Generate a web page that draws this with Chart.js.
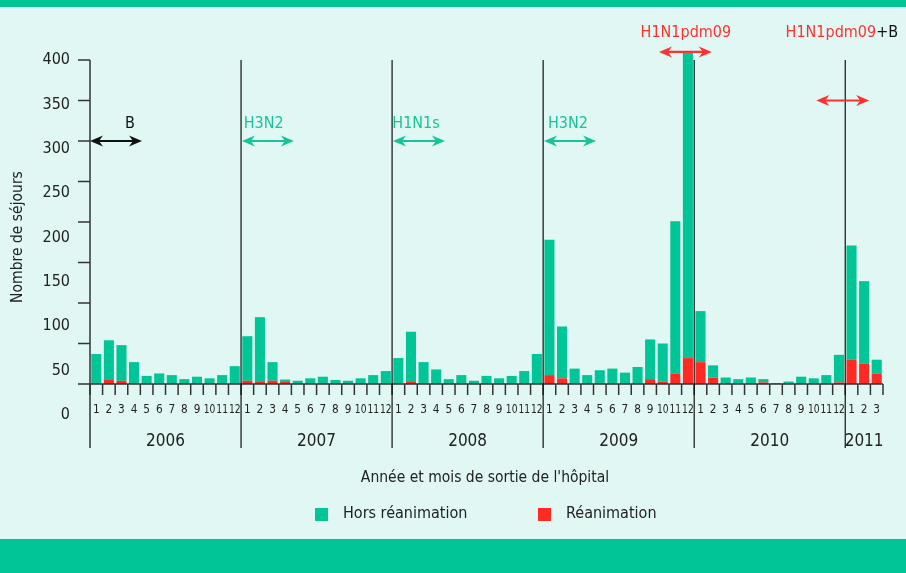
<!DOCTYPE html>
<html><head><meta charset="utf-8">
<script src="https://cdn.jsdelivr.net/npm/chart.js@4.4.0/dist/chart.umd.min.js"></script>
<style>html,body{margin:0;padding:0;background:#e0f7f3;}#wrap{width:906px;height:573px;position:relative;}</style>
</head><body><div id="wrap"><canvas id="c" width="906" height="573"></canvas></div>
<script>
// ---- data ----
const years = ['2006','2007','2008','2009','2010','2011'];
const monthsPerYear = [12,12,12,12,12,3];
const monthLabels = [];
years.forEach((y,k)=>{ for(let m=1;m<=monthsPerYear[k];m++) monthLabels.push(String(m)); });

const horsReanimation = [
  36,49,44,26,9,12,10,5,8,6,10,21,
  55,80,23,3,3,6,8,4,3,6,10,15,
  31,62,26,17,5,10,3,9,6,9,15,36,
  167,64,18,10,16,18,13,20,49,47,188,378,
  63,15,7,5,7,4,0,2,8,6,10,34,
  141,102,17
];
const reanimation = [
  1,5,4,1,1,1,1,1,1,1,1,1,
  4,2.5,4,2.5,1,1,1,1,1,1,1,1,
  1,2.5,1,1,1,1,1,1,1,1,1,1,
  11,7,1,1,1,1,1,1,6,3,13,32,
  27,8,1,1,1,2,1,1,1,1,1,2,
  30,25,13
];
const yTicks = [0,50,100,150,200,250,300,350,400];
const seriesNames = ['Hors réanimation','Réanimation'];

// epidemic periods (x in month index units, y in value units)
const periods = [
  {label:[['B','#111']], from:-0.5, to:3.63, y:300, lx:2.68, color:'#111'},
  {label:[['H3N2','#17c49a']], from:11.57, to:15.7, y:300, lx:13.3, color:'#17c49a'},
  {label:[['H1N1s','#17c49a']], from:23.57, to:27.7, y:300, lx:25.4, color:'#17c49a'},
  {label:[['H3N2','#17c49a']], from:35.57, to:39.7, y:300, lx:37.47, color:'#17c49a'},
  {label:[['H1N1pdm09','#ff3030']], from:44.7, to:48.9, y:410, ly:433, lx:46.84, color:'#ff3030'},
  {label:[['H1N1pdm09','#ff3030'],['+B','#111']], from:57.2, to:61.4, y:350, ly:433, lx:59.23, color:'#ff3030'}
];

const GREEN = '#00c596', RED = '#ff2a24', BG = '#e0f7f3', DARK = '#222';
const F = '"Liberation Sans Narrow","DejaVu Sans Condensed","Open Sans",sans-serif';

function arrow(ctx, x1, x2, y, color){
  ctx.save();
  ctx.strokeStyle = color; ctx.fillStyle = color; ctx.lineWidth = 2.2;
  ctx.beginPath(); ctx.moveTo(x1+6,y); ctx.lineTo(x2-6,y); ctx.stroke();
  [[x1,1],[x2,-1]].forEach(([x,d])=>{
    ctx.beginPath();
    ctx.moveTo(x,y);
    ctx.lineTo(x+d*13,y-5.5);
    ctx.lineTo(x+d*9,y);
    ctx.lineTo(x+d*13,y+5.5);
    ctx.closePath(); ctx.fill();
  });
  ctx.restore();
}

const deco = {
  id:'deco',
  beforeDraw(chart){
    const ctx = chart.ctx;
    ctx.save();
    ctx.fillStyle = BG; ctx.fillRect(0,0,chart.width,chart.height);
    ctx.fillStyle = GREEN;
    ctx.fillRect(0,0,chart.width,7);
    ctx.fillRect(0,539,chart.width,chart.height-539);
    ctx.restore();
  },
  afterDatasetsDraw(chart){
    const ctx = chart.ctx, x = chart.scales.x, y = chart.scales.y, yl = chart.scales.yl;
    const left = chart.chartArea.left, right = chart.chartArea.right;
    const y0 = y.getPixelForValue(0), yTop = y.getPixelForValue(400);
    const lineBottom = 448;
    ctx.save();
    // y axis
    ctx.strokeStyle = '#333'; ctx.lineWidth = 1.5;
    ctx.beginPath(); ctx.moveTo(left, yTop); ctx.lineTo(left, lineBottom); ctx.stroke();
    ctx.font = '16px ' + F; ctx.fillStyle = DARK; ctx.textAlign = 'right'; ctx.textBaseline = 'middle';
    yTicks.forEach(v=>{
      const py = y.getPixelForValue(v);
      ctx.beginPath(); ctx.moveTo(left-12, py); ctx.lineTo(left, py); ctx.stroke();
      ctx.fillText(String(v), left-20, yl.getPixelForValue(v));
    });
    // baseline
    ctx.beginPath(); ctx.moveTo(left, y0); ctx.lineTo(right, y0); ctx.stroke();
    // month ticks + year lines
    const n = monthLabels.length;
    let idx = 0; const bounds = [];
    monthsPerYear.forEach(c=>{ bounds.push(idx); idx += c; });
    for(let i=0;i<=n;i++){
      const px = x.getPixelForValue(i-0.5);
      ctx.strokeStyle = '#333'; ctx.lineWidth = 1.5;
      ctx.beginPath(); ctx.moveTo(px, y0); ctx.lineTo(px, y0+11); ctx.stroke();
      if (bounds.includes(i) && i>0){
        ctx.strokeStyle = '#111'; ctx.lineWidth = 1.2;
        ctx.beginPath(); ctx.moveTo(px, yTop); ctx.lineTo(px, lineBottom); ctx.stroke();
      }
    }
    // month labels (horizontally condensed)
    ctx.font = '13px ' + F; ctx.textAlign = 'center'; ctx.fillStyle = DARK;
    monthLabels.forEach((m,i)=>{
      ctx.save();
      ctx.translate(x.getPixelForValue(i), 410);
      ctx.scale(m.length > 1 ? 0.78 : 0.9, 1);
      ctx.fillText(m, 0, 0);
      ctx.restore();
    });
    // year labels
    ctx.font = '17px ' + F;
    years.forEach((yr,k)=>{
      const a = x.getPixelForValue(bounds[k]-0.5), b = x.getPixelForValue(bounds[k]+monthsPerYear[k]-0.5);
      ctx.fillText(yr, (a+b)/2, 442);
    });
    // periods
    ctx.font = '16px ' + F;
    periods.forEach(p=>{
      const py = y.getPixelForValue(p.y);
      arrow(ctx, x.getPixelForValue(p.from), x.getPixelForValue(p.to), py, p.color);
      const ly = p.ly !== undefined ? y.getPixelForValue(p.ly) : py - 17;
      const total = p.label.reduce((s,[t])=>s+ctx.measureText(t).width,0);
      let sx = x.getPixelForValue(p.lx) - total/2;
      ctx.textAlign = 'left';
      p.label.forEach(([t,c])=>{ ctx.fillStyle = c; ctx.fillText(t, sx, ly); sx += ctx.measureText(t).width; });
    });
    // axis titles
    ctx.fillStyle = DARK; ctx.font = '15.5px ' + F; ctx.textAlign = 'center';
    ctx.fillText("Année et mois de sortie de l'hôpital", 485, 478);
    ctx.save(); ctx.translate(18, 237); ctx.rotate(-Math.PI/2);
    ctx.fillText('Nombre de séjours', 0, 0); ctx.restore();
    // legend
    ctx.textAlign = 'left'; ctx.font = '16px ' + F;
    const ds = chart.data.datasets;
    [[ds[1], 315],[ds[0], 538]].forEach(([d, lx])=>{
      ctx.fillStyle = d.backgroundColor; ctx.fillRect(lx, 508, 13, 13);
      ctx.fillStyle = DARK; ctx.fillText(d.label, lx+28, 514);
    });
    ctx.restore();
  }
};

new Chart(document.getElementById('c'), {
  type:'bar',
  data:{
    labels: monthLabels,
    datasets:[
      {label: seriesNames[1], data: reanimation, backgroundColor: RED, stack:'s', clip:false},
      {label: seriesNames[0], data: horsReanimation, backgroundColor: GREEN, stack:'s', clip:false}
    ]
  },
  options:{
    responsive:false, animation:false,
    layout:{padding:{left:90, right:23, top:60, bottom:189}},
    datasets:{bar:{barPercentage:0.8, categoryPercentage:1.0, borderWidth:0}},
    scales:{
      x:{display:false, stacked:true, offset:true},
      y:{display:false, stacked:true, min:0, max:400},
      yl:{display:false, min:35, max:400, position:'left'}
    },
    plugins:{legend:{display:false}, tooltip:{enabled:false}}
  },
  plugins:[deco]
});
</script></body></html>
